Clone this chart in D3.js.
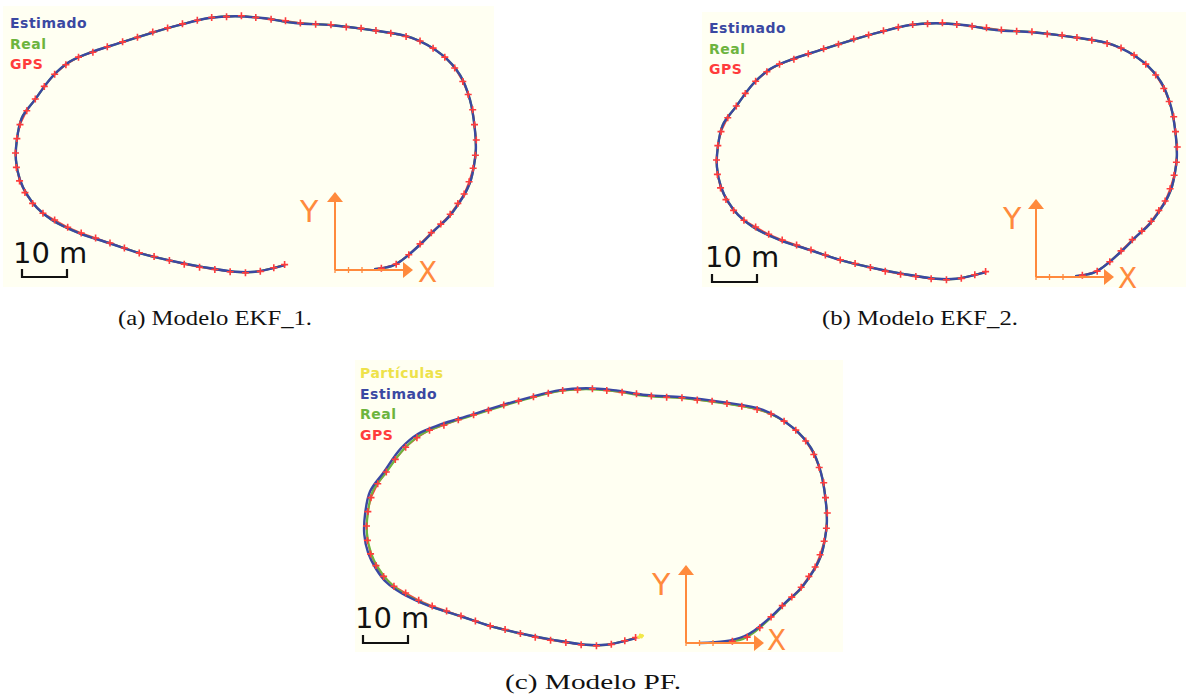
<!DOCTYPE html>
<html>
<head>
<meta charset="utf-8">
<script src="https://cdn.jsdelivr.net/npm/d3@7"></script>
<style>
  html, body { margin: 0; padding: 0; background: #ffffff; }
  svg { display: block; }
</style>
</head>
<body>
<svg id="fig" width="1189" height="700"></svg>
<script>
// Reference (real) trajectory, metres, relative to the local X/Y frame
const realTrack = [
  [8.7, 0.2], [12.7, 0.9], [14.9, 2.2], [19.3, 6.0], [22.2, 8.9], [25.3, 11.8],
  [27.6, 14.9], [29.3, 17.8], [30.2, 20.0], [30.9, 23.3], [31.3, 26.7], [31.1, 31.1],
  [30.0, 37.8], [27.8, 43.3], [23.8, 47.8], [17.1, 51.6], [8.2, 53.3], [-0.7, 54.4],
  [-8.9, 54.9], [-16.2, 56.0], [-22.2, 56.4], [-28.0, 56.0], [-34.7, 54.4], [-40.7, 52.7],
  [-48.0, 50.4], [-54.7, 48.2], [-59.1, 46.2], [-62.9, 42.9], [-66.7, 37.8], [-69.6, 33.8],
  [-70.7, 28.9], [-70.9, 24.4], [-70.0, 20.0], [-68.4, 16.7], [-66.2, 13.8], [-62.9, 11.1],
  [-56.9, 8.2], [-50.2, 6.0], [-43.6, 3.8], [-36.2, 2.0], [-29.6, 0.7], [-22.2, -0.4],
  [-17.8, -0.4], [-11.1, 1.1]
];

// EKF estimates (they lie on top of the real track)
const ekf1Track = realTrack;
const ekf2Track = realTrack;

// Particle-filter estimate
const pfTrack = [
  [3.1, 0.0], [8.7, 0.4], [12.9, 1.5], [15.2, 2.8], [19.4, 6.3], [22.2, 9.1], [25.3, 11.9],
  [27.6, 14.9], [29.3, 17.8], [30.2, 20.0], [30.9, 23.3], [31.3, 26.7], [31.1, 31.1],
  [30.0, 37.8], [27.8, 43.3], [23.8, 47.8], [17.1, 51.8], [8.2, 53.5], [-0.7, 54.6],
  [-8.9, 55.1], [-16.2, 56.2], [-22.2, 56.6], [-28.0, 56.2], [-34.7, 54.6], [-40.7, 52.9],
  [-48.0, 50.6], [-54.7, 48.5], [-59.5, 46.5], [-63.4, 43.2], [-67.2, 37.9], [-70.2, 33.7],
  [-71.3, 28.8], [-71.5, 24.2], [-70.6, 19.9], [-68.9, 16.5], [-66.6, 13.5], [-63.1, 11.0],
  [-57.0, 8.2], [-50.2, 6.0], [-43.6, 3.8], [-36.2, 2.0], [-29.6, 0.7], [-22.2, -0.4],
  [-17.8, -0.4], [-11.1, 1.1]
];

// GPS fixes, metres
const gpsFixes = [
  [10.3, 0.4], [13.6, 1.3], [16.4, 3.4], [18.9, 5.8], [21.4, 8.3], [23.5, 10.2], [25.6, 12.4],
  [27.3, 14.8], [28.7, 16.9], [29.8, 19.6], [30.7, 22.6], [31.2, 25.5], [31.4, 28.9], [31.0, 32.3],
  [30.6, 35.6], [29.6, 39.0], [28.4, 41.9], [26.6, 44.9], [24.4, 47.3], [21.8, 49.3], [18.9, 50.9],
  [15.8, 51.9], [12.4, 52.6], [9.1, 53.2], [5.8, 53.7], [2.5, 54.0], [-0.9, 54.5], [-4.3, 54.6],
  [-7.7, 54.9], [-11.0, 55.4], [-14.2, 55.7], [-17.6, 56.1], [-20.8, 56.5], [-24.1, 56.3],
  [-27.4, 56.1], [-30.6, 55.5], [-33.9, 54.7], [-37.2, 53.8], [-40.5, 52.9], [-43.9, 51.7],
  [-47.2, 50.7], [-50.6, 49.6], [-53.8, 48.4], [-57.0, 47.3], [-59.8, 45.6], [-62.3, 43.5],
  [-64.6, 40.8], [-66.6, 38.0], [-68.5, 35.4], [-70.0, 32.3], [-70.7, 29.2], [-71.0, 26.0],
  [-70.8, 22.8], [-70.1, 19.8], [-68.9, 17.2], [-67.2, 14.8], [-64.9, 12.6], [-62.3, 11.1],
  [-59.4, 9.5], [-56.4, 8.2], [-53.2, 7.1], [-50.0, 6.0], [-46.8, 4.9], [-43.5, 3.8],
  [-40.2, 3.0], [-36.8, 2.1], [-33.5, 1.3], [-30.1, 0.6], [-26.7, 0.1], [-23.3, -0.4],
  [-19.9, -0.6], [-16.6, -0.3], [-13.6, 0.5], [-11.2, 1.2]
];

// Particle cloud at the last step of the PF run
const particles = [
  [-10.4, 1.2], [-10.1, 1.5], [-9.8, 1.7], [-10.6, 1.4], [-9.9, 1.3], [-10.2, 1.8], [-9.6, 1.6]
];

const legendEKF = ["Estimado", "Real", "GPS"];
const legendPF = ["Partículas", "Estimado", "Real", "GPS"];
const captions = ["(a) Modelo EKF_1.", "(b) Modelo EKF_2.", "(c) Modelo PF."];
const scaleBarMetres = 10;
const scaleBarLabel = "10 m";
const axisTicks = [0, 3, 6];
const axisLabels = ["X", "Y"];

const colors = {
  bg: "#fffff2",
  est: "#3a48a2",
  real: "#6db43e",
  gps: "#ff3c3c",
  part: "#f2e84a",
  axis: "#ff8a3d",
  legend: { "Partículas": "#eee24a", "Estimado": "#3a48a2", "Real": "#6db43e", "GPS": "#ff3c3c" }
};

const PX_PER_M = 4.5;

const panels = [
  { frame: [3, 6, 491, 281], origin: [335, 270], legend: [10, 28], legendItems: legendEKF,
    est: ekf1Track, particles: null, caption: captions[0], capPos: [118, 325, 194],
    bar: [22, 277], barText: [13, 263], yLab: [300, 222], xLab: [418, 282] },
  { frame: [702, 12, 484, 275], origin: [1036, 277], legend: [709, 33], legendItems: legendEKF,
    est: ekf2Track, particles: null, caption: captions[1], capPos: [822, 325, 196],
    bar: [712, 282], barText: [705, 267], yLab: [1003, 229], xLab: [1118, 288] },
  { frame: [355, 360, 488, 292], origin: [686, 643], legend: [360, 378], legendItems: legendPF,
    est: pfTrack, particles: particles, caption: captions[2], capPos: [505, 689, 176],
    bar: [363, 643], barText: [355, 628], yLab: [652, 595], xLab: [767, 650] }
];

const svg = d3.select("#fig");

panels.forEach(p => {
  const g = svg.append("g");
  const [fx, fy, fw, fh] = p.frame;
  const [ox, oy] = p.origin;

  const x = d3.scaleLinear().domain([0, 1]).range([ox, ox + PX_PER_M]);
  const y = d3.scaleLinear().domain([0, 1]).range([oy, oy - PX_PER_M]);

  g.append("rect").attr("x", fx).attr("y", fy).attr("width", fw).attr("height", fh)
    .attr("fill", colors.bg);

  const line = d3.line().x(d => x(d[0])).y(d => y(d[1])).curve(d3.curveCatmullRom.alpha(0.5));

  // GPS polyline
  g.append("path").attr("d", d3.line().x(d => x(d[0])).y(d => y(d[1]))(gpsFixes))
    .attr("fill", "none").attr("stroke", colors.gps).attr("stroke-width", 1.6);

  // real track
  g.append("path").attr("d", line(realTrack)).attr("fill", "none")
    .attr("stroke", colors.real).attr("stroke-width", 2.2).attr("stroke-linejoin", "round");

  // estimate
  g.append("path").attr("d", line(p.est)).attr("fill", "none")
    .attr("stroke", colors.est).attr("stroke-width", 2.4).attr("stroke-linejoin", "round");

  // GPS crosses
  g.selectAll(".fix").data(gpsFixes).join("path")
    .attr("transform", d => `translate(${x(d[0])},${y(d[1])})`)
    .attr("d", "M-3.5,0H3.5M0,-3.5V3.5")
    .attr("stroke", colors.gps).attr("stroke-width", 1.6).attr("fill", "none");

  if (p.particles) {
    g.selectAll(".pt").data(p.particles).join("circle")
      .attr("cx", d => x(d[0])).attr("cy", d => y(d[1])).attr("r", 1.3)
      .attr("fill", colors.part);
  }

  // local frame axes
  const axLen = 78;
  const ax = g.append("g").attr("stroke", colors.axis).attr("fill", colors.axis);
  ax.append("line").attr("x1", ox).attr("y1", oy).attr("x2", ox + axLen - 8).attr("y2", oy)
    .attr("stroke-width", 2);
  ax.append("path").attr("d", `M${ox + axLen},${oy}L${ox + axLen - 10},${oy - 8}L${ox + axLen - 10},${oy + 8}Z`)
    .attr("stroke", "none");
  ax.append("line").attr("x1", ox).attr("y1", oy).attr("x2", ox).attr("y2", oy - axLen + 8)
    .attr("stroke-width", 2);
  ax.append("path").attr("d", `M${ox},${oy - axLen}L${ox - 8},${oy - axLen + 10}L${ox + 8},${oy - axLen + 10}Z`)
    .attr("stroke", "none");
  ax.selectAll(".tk").data(axisTicks).join("line")
    .attr("x1", d => x(d)).attr("x2", d => x(d)).attr("y1", oy - 3).attr("y2", oy + 3)
    .attr("stroke-width", 1.3);

  g.append("text").attr("x", p.xLab[0]).attr("y", p.xLab[1]).text(axisLabels[0])
    .attr("font-family", "DejaVu Sans").attr("font-size", 28).attr("fill", colors.axis);
  g.append("text").attr("x", p.yLab[0]).attr("y", p.yLab[1]).text(axisLabels[1])
    .attr("font-family", "DejaVu Sans").attr("font-size", 30).attr("fill", colors.axis);

  // scale bar
  const [bx, by] = p.bar;
  const bw = scaleBarMetres * PX_PER_M;
  g.append("path").attr("d", `M${bx},${by - 8}V${by}H${bx + bw}V${by - 8}`)
    .attr("fill", "none").attr("stroke", "#111").attr("stroke-width", 2.2);
  g.append("text").attr("x", p.barText[0]).attr("y", p.barText[1]).text(scaleBarLabel)
    .attr("font-family", "DejaVu Sans").attr("font-size", 29).attr("fill", "#111");

  // legend
  g.selectAll(".lg").data(p.legendItems).join("text")
    .attr("x", p.legend[0]).attr("y", (d, i) => p.legend[1] + i * 20.7)
    .text(d => d)
    .attr("font-family", "DejaVu Sans").attr("font-weight", "bold").attr("font-size", 14)
    .attr("letter-spacing", 0.5).attr("fill", d => colors.legend[d]);

  // caption
  svg.append("text").attr("x", p.capPos[0]).attr("y", p.capPos[1]).text(p.caption)
    .attr("font-family", "Liberation Serif").attr("font-size", 21).attr("fill", "#111")
    .attr("textLength", p.capPos[2]).attr("lengthAdjust", "spacingAndGlyphs");
});
</script>
</body>
</html>
